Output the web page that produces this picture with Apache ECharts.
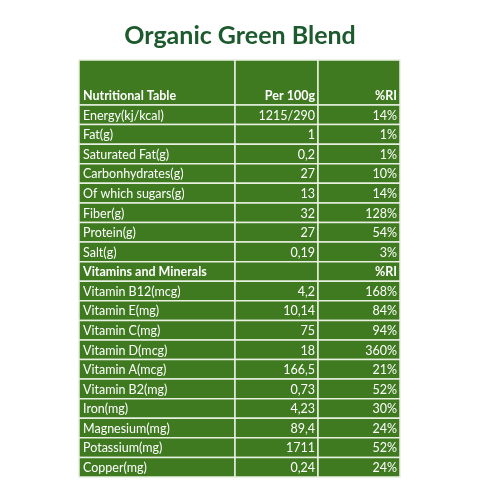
<!DOCTYPE html>
<html><head><meta charset="utf-8">
<script src="https://cdn.jsdelivr.net/npm/echarts@6/dist/echarts.min.js"></script>
<style>html,body{margin:0;background:#fff}#c{width:480px;height:480px}</style>
</head><body><div id="c"></div>
<script>
const title = "Organic Green Blend";
const headers = ["Nutritional Table", "Per 100g", "%RI"];
const nutrients = ["Energy(kj/kcal)","Fat(g)","Saturated Fat(g)","Carbonhydrates(g)","Of which sugars(g)","Fiber(g)","Protein(g)","Salt(g)","Vitamins and Minerals","Vitamin B12(mcg)","Vitamin E(mg)","Vitamin C(mg)","Vitamin D(mcg)","Vitamin A(mcg)","Vitamin B2(mg)","Iron(mg)","Magnesium(mg)","Potassium(mg)","Copper(mg)"];
const per100g = ["1215/290","1","0,2","27","13","32","27","0,19","","4,2","10,14","75","18","166,5","0,73","4,23","89,4","1711","0,24"];
const ri = ["14%","1%","1%","10%","14%","128%","54%","3%","%RI","168%","84%","94%","360%","21%","52%","30%","24%","52%","24%"];
const boldRows = ["Vitamins and Minerals"];

const colEdges = [0, 156, 239, 321];
const headerH = 2.3;
const cells = [];
headers.forEach((h, c) => cells.push([c, -1, h, 1]));
nutrients.forEach((n, r) => {
  const b = boldRows.includes(n) ? 1 : 0;
  cells.push([0, r, n, b]); cells.push([1, r, per100g[r], b]); cells.push([2, r, ri[r], b]);
});
const chart = echarts.init(document.getElementById('c'));
chart.setOption({
  animation: false,
  title: {text: title, left: 'center', top: 18, textStyle: {fontFamily: 'Lato', fontWeight: 'bold', fontSize: 25, color: '#1d5a2e'}},
  grid: {left: 79, right: 80, top: 60, bottom: 3},
  xAxis: {type: 'value', min: 0, max: 321, show: false},
  yAxis: {type: 'value', min: 0, max: headerH + nutrients.length, inverse: true, show: false},
  series: [{
    type: 'custom', data: cells,
    renderItem: (p, api) => {
      const c = api.value(0), r = api.value(1);
      const d = cells[p.dataIndex];
      const y0 = r < 0 ? 0 : headerH + r, y1 = r < 0 ? headerH : headerH + r + 1;
      const a = api.coord([colEdges[c], y0]), b = api.coord([colEdges[c + 1], y1]);
      const left = c === 0;
      return {type: 'group', children: [
        {type: 'rect', shape: {x: a[0], y: a[1], width: b[0] - a[0], height: b[1] - a[1]},
         style: {fill: '#3f7a21', stroke: '#e8f0e0', lineWidth: 1.5}},
        {type: 'text', style: {text: d[2], x: left ? a[0] + 4 : b[0] - 3, y: b[1] - 9,
          align: left ? 'left' : 'right', verticalAlign: 'middle', fill: '#fff',
          font: (d[3] || r < 0 ? 'bold ' : '') + '12.5px Lato'}}
      ]};
    }
  }]
});
</script></body></html>
